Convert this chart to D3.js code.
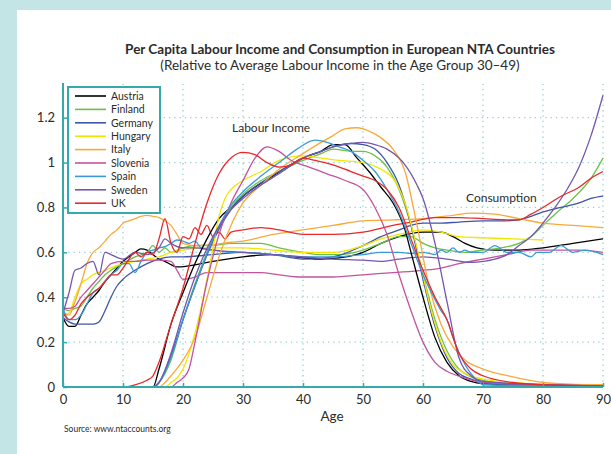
<!DOCTYPE html>
<html><head><meta charset="utf-8">
<script src="https://cdn.jsdelivr.net/npm/d3@7"></script>
<style>
html,body{margin:0;padding:0;background:#fff;}
svg{display:block;font-family:Lato,"Open Sans",sans-serif;}
</style></head>
<body><svg id="chart" width="611" height="454"></svg>
<script>
// ---------- DATA ----------
const countries = ["Austria","Finland","Germany","Hungary","Italy","Slovenia","Spain","Sweden","UK"];
const colors = ["#000000","#6cc04a","#3f55a6","#f2e600","#f9a93a","#c2549e","#3a9ad9","#7457b0","#e8282b"];
const xTicks = [0,10,20,30,40,50,60,70,80,90];
const yTicks = [0,0.2,0.4,0.6,0.8,1,1.2];

// Labour income: [age, value]
const liAustria = [[0,0],[15,0],[16,0.08],[18,0.28],[20,0.42],[22,0.55],[24,0.66],[26,0.75],[28,0.8],[30,0.85],[32,0.89],[35,0.94],[38,0.99],[40,1.02],[43,1.05],[45,1.08],[47,1.08],[49,1.02],[51,0.96],[53,0.89],[55,0.82],[57,0.7],[58,0.6],[60,0.4],[62,0.22],[64,0.11],[66,0.05],[68,0.025],[70,0.015],[75,0.01],[90,0.005]];
const liFinland = [[0,0],[15,0],[16,0.02],[18,0.12],[20,0.3],[22,0.46],[25,0.66],[28,0.8],[30,0.86],[33,0.92],[36,0.96],[40,1.01],[43,1.04],[45,1.06],[48,1.05],[50,1.05],[52,1.03],[54,0.98],[56,0.88],[58,0.72],[60,0.5],[62,0.3],[64,0.16],[66,0.08],[68,0.045],[70,0.03],[75,0.015],[80,0.012],[90,0.01]];
const liGermany = [[0,0],[15,0],[16,0.02],[18,0.14],[20,0.3],[22,0.45],[25,0.65],[28,0.79],[30,0.85],[33,0.91],[36,0.96],[40,1.02],[43,1.05],[45,1.07],[48,1.085],[50,1.08],[52,1.06],[54,1.0],[56,0.9],[58,0.72],[60,0.48],[62,0.27],[64,0.13],[66,0.06],[68,0.035],[70,0.02],[75,0.01],[90,0.005]];
const liHungary = [[0,0],[17,0],[18,0.02],[19,0.04],[20,0.08],[22,0.24],[24,0.48],[25,0.62],[26,0.76],[27,0.84],[28,0.88],[30,0.92],[33,0.96],[36,1.01],[40,1.03],[43,1.02],[46,1.01],[50,1.0],[53,0.97],[55,0.93],[57,0.82],[59,0.62],[61,0.38],[63,0.2],[65,0.1],[67,0.06],[70,0.035],[75,0.02],[80,0.01],[90,0.005]];
const liItaly = [[0,0],[16,0],[17,0.02],[18,0.05],[20,0.12],[22,0.22],[24,0.4],[26,0.58],[28,0.72],[30,0.82],[33,0.9],[36,0.97],[40,1.04],[43,1.09],[45,1.12],[47,1.15],[49,1.155],[51,1.14],[53,1.11],[55,1.06],[57,0.96],[59,0.72],[61,0.45],[63,0.28],[65,0.18],[67,0.12],[70,0.08],[75,0.045],[80,0.02],[85,0.012],[90,0.01]];
const liSlovenia = [[0,0],[18,0],[19,0.02],[20,0.04],[21,0.08],[22,0.2],[24,0.47],[26,0.68],[28,0.82],[30,0.92],[32,1.02],[34,1.07],[36,1.05],[38,1.01],[41,0.98],[44,0.95],[47,0.92],[50,0.88],[52,0.8],[54,0.68],[56,0.5],[58,0.34],[60,0.2],[62,0.11],[64,0.07],[67,0.04],[70,0.02],[80,0.01],[90,0.005]];
const liSpain = [[0,0],[15,0],[16,0.02],[18,0.13],[20,0.3],[22,0.45],[25,0.66],[28,0.81],[30,0.87],[33,0.94],[36,1.0],[39,1.06],[42,1.1],[44,1.09],[46,1.07],[48,1.05],[50,1.01],[52,0.96],[54,0.88],[56,0.78],[58,0.64],[60,0.5],[62,0.39],[63,0.34],[64,0.3],[65,0.22],[67,0.1],[69,0.03],[70,0.01],[80,0.005],[90,0.005]];
const liSweden = [[0,0],[15,0],[16,0.02],[18,0.15],[20,0.33],[22,0.49],[25,0.67],[28,0.79],[30,0.84],[33,0.9],[36,0.95],[40,1.02],[43,1.05],[45,1.07],[48,1.085],[50,1.09],[52,1.08],[54,1.06],[56,1.02],[57,0.99],[59,0.9],[60,0.84],[62,0.64],[64,0.38],[66,0.13],[68,0.05],[70,0.025],[80,0.01],[90,0.005]];
const liUK = [[0,0],[10,0],[12,0.01],[14,0.03],[15,0.05],[16,0.11],[18,0.28],[20,0.44],[22,0.64],[24,0.82],[26,0.95],[28,1.02],[30,1.045],[32,1.035],[34,1.0],[36,0.98],[38,0.99],[40,1.02],[42,1.01],[45,0.99],[48,0.96],[50,0.94],[52,0.92],[54,0.88],[56,0.8],[58,0.66],[60,0.52],[62,0.4],[64,0.3],[66,0.15],[68,0.08],[70,0.05],[75,0.02],[80,0.01],[90,0.005]];

// Consumption: [age, value]
const cAustria = [[0,0.31],[1,0.27],[2,0.27],[3,0.32],[4,0.37],[5,0.4],[6,0.43],[7,0.47],[8,0.5],[9,0.53],[10,0.56],[11,0.58],[12,0.6],[13,0.615],[14,0.61],[15,0.59],[16,0.57],[17,0.56],[18,0.545],[19,0.535],[21,0.54],[25,0.56],[30,0.58],[35,0.59],[40,0.575],[43,0.57],[46,0.575],[50,0.6],[53,0.64],[56,0.67],[60,0.69],[63,0.69],[65,0.67],[67,0.64],[69,0.62],[72,0.61],[76,0.61],[80,0.62],[85,0.64],[90,0.66]];
const cFinland = [[0,0.35],[1,0.34],[2,0.35],[3,0.36],[4,0.4],[5,0.44],[6,0.47],[7,0.5],[8,0.52],[10,0.55],[12,0.58],[14,0.6],[15,0.63],[16,0.6],[17,0.62],[18,0.6],[20,0.62],[22,0.63],[25,0.63],[28,0.64],[30,0.64],[33,0.64],[36,0.62],[40,0.6],[43,0.59],[46,0.59],[50,0.61],[53,0.64],[56,0.67],[58,0.67],[60,0.64],[62,0.62],[64,0.61],[67,0.6],[70,0.61],[73,0.62],[76,0.64],[78,0.67],[80,0.72],[82,0.77],[85,0.84],[88,0.93],[90,1.02]];
const cGermany = [[0,0.31],[1,0.29],[2,0.28],[3,0.28],[4,0.28],[5,0.28],[6,0.29],[7,0.34],[8,0.4],[9,0.45],[10,0.48],[12,0.52],[14,0.55],[16,0.57],[18,0.58],[20,0.58],[25,0.59],[30,0.6],[35,0.59],[40,0.57],[45,0.58],[50,0.63],[53,0.67],[56,0.7],[58,0.72],[60,0.73],[63,0.73],[66,0.735],[70,0.74],[73,0.74],[76,0.745],[78,0.76],[80,0.78],[83,0.8],[86,0.82],[88,0.84],[90,0.85]];
const cHungary = [[0,0.32],[1,0.33],[2,0.4],[3,0.46],[4,0.48],[5,0.5],[7,0.52],[10,0.55],[12,0.56],[14,0.57],[16,0.58],[18,0.6],[20,0.61],[23,0.62],[26,0.62],[30,0.62],[35,0.61],[40,0.6],[45,0.6],[50,0.63],[53,0.66],[56,0.68],[60,0.7],[63,0.69],[66,0.67],[70,0.665],[75,0.66],[80,0.655]];
const cItaly = [[0,0.33],[1,0.32],[2,0.38],[3,0.46],[4,0.55],[5,0.6],[6,0.62],[7,0.65],[8,0.68],[9,0.7],[10,0.73],[11,0.74],[12,0.75],[13,0.76],[14,0.765],[15,0.76],[16,0.755],[17,0.74],[18,0.72],[19,0.68],[20,0.64],[22,0.63],[25,0.635],[28,0.645],[30,0.65],[35,0.68],[40,0.7],[45,0.72],[50,0.74],[55,0.745],[60,0.75],[65,0.765],[68,0.775],[72,0.77],[76,0.75],[80,0.73],[85,0.72],[90,0.71]];
const cSlovenia = [[0,0.35],[1,0.35],[2,0.36],[3,0.4],[4,0.43],[5,0.46],[6,0.49],[7,0.52],[8,0.55],[10,0.56],[12,0.56],[14,0.565],[16,0.565],[18,0.56],[19,0.52],[20,0.48],[22,0.49],[24,0.51],[28,0.51],[33,0.51],[36,0.5],[40,0.49],[45,0.49],[50,0.5],[55,0.51],[60,0.52],[63,0.53],[66,0.55],[70,0.57],[74,0.59],[78,0.61],[82,0.61],[86,0.61],[90,0.6]];
const cSpain = [[0,0.35],[1,0.3],[2,0.3],[3,0.32],[4,0.37],[5,0.42],[6,0.44],[7,0.47],[8,0.5],[9,0.52],[10,0.55],[11,0.55],[12,0.51],[13,0.56],[14,0.6],[15,0.61],[16,0.62],[17,0.625],[18,0.64],[19,0.655],[20,0.65],[21,0.64],[22,0.65],[23,0.62],[25,0.61],[28,0.6],[30,0.6],[35,0.59],[40,0.58],[45,0.58],[50,0.59],[53,0.6],[56,0.6],[58,0.595],[60,0.6],[62,0.59],[63,0.61],[64,0.6],[65,0.62],[66,0.6],[67,0.61],[68,0.6],[70,0.6],[72,0.63],[74,0.6],[76,0.6],[78,0.58],[79,0.6],[81,0.6],[83,0.63],[85,0.6],[87,0.61],[90,0.59]];
const cSweden = [[0,0.33],[1,0.42],[2,0.52],[3,0.53],[4,0.55],[5,0.56],[6,0.5],[7,0.6],[8,0.59],[10,0.57],[12,0.6],[14,0.59],[16,0.62],[17,0.66],[18,0.64],[20,0.62],[22,0.62],[25,0.61],[30,0.6],[35,0.59],[40,0.58],[45,0.57],[50,0.565],[53,0.56],[56,0.57],[60,0.58],[64,0.57],[68,0.555],[70,0.56],[72,0.57],[74,0.59],[76,0.63],[78,0.67],[80,0.73],[82,0.8],[84,0.88],[86,0.98],[88,1.12],[90,1.3]];
const cUK = [[0,0.33],[1,0.3],[2,0.32],[3,0.37],[4,0.4],[5,0.42],[6,0.44],[7,0.47],[8,0.5],[9,0.5],[10,0.53],[11,0.57],[12,0.6],[13,0.58],[14,0.6],[15,0.59],[16,0.66],[17,0.75],[18,0.64],[19,0.6],[20,0.67],[21,0.66],[22,0.71],[23,0.68],[24,0.72],[25,0.67],[26,0.69],[27,0.66],[28,0.69],[30,0.7],[33,0.71],[36,0.7],[40,0.68],[45,0.68],[50,0.69],[55,0.72],[58,0.735],[62,0.755],[66,0.755],[70,0.75],[74,0.745],[76,0.745],[78,0.77],[80,0.8],[83,0.85],[86,0.89],[88,0.93],[90,0.96]];

const labourSeries = [liAustria,liFinland,liGermany,liHungary,liItaly,liSlovenia,liSpain,liSweden,liUK];
const consSeries = [cAustria,cFinland,cGermany,cHungary,cItaly,cSlovenia,cSpain,cSweden,cUK];

// ---------- DRAW ----------
const svg = d3.select("#chart");
const W = 611, H = 454;
const teal = "#36a9aa", grid = "#8ed2d6", band = "#c3e5e6", txt = "#2b2b2b";

svg.append("rect").attr("x",0).attr("y",0).attr("width",W).attr("height",10).attr("fill",band);
svg.append("rect").attr("x",0).attr("y",0).attr("width",17).attr("height",H).attr("fill",band);

const m = {left:63, right:603, top:84, bottom:387};
const x = d3.scaleLinear().domain([0,90]).range([m.left,m.right]);
const y = d3.scaleLinear().domain([0,1.35]).range([m.bottom,m.top]);

// grid
const g = svg.append("g");
g.selectAll(".vg").data(xTicks.filter(d=>d>0)).join("line")
  .attr("x1",d=>x(d)).attr("x2",d=>x(d)).attr("y1",m.bottom).attr("y2",m.top)
  .attr("stroke",grid).attr("stroke-width",1.3).attr("stroke-dasharray","1.3,4");
g.selectAll(".hg").data(yTicks.filter(d=>d>0)).join("line")
  .attr("x1",m.left).attr("x2",m.right).attr("y1",d=>y(d)).attr("y2",d=>y(d))
  .attr("stroke",grid).attr("stroke-width",1.3).attr("stroke-dasharray","1.3,4");

// lines
const line = d3.line().x(d=>x(d[0])).y(d=>y(d[1])).curve(d3.curveMonotoneX);
const lines = svg.append("g").attr("fill","none").attr("stroke-width",1.3).attr("stroke-linejoin","round");
consSeries.forEach((s,i)=>lines.append("path").attr("d",line(s)).attr("stroke",colors[i]));
labourSeries.forEach((s,i)=>lines.append("path").attr("d",line(s)).attr("stroke",colors[i]));

// axes
const xAxis = d3.axisBottom(x).tickValues(xTicks).tickSize(-4).tickPadding(8).tickFormat(d3.format("d"));
const yAxis = d3.axisLeft(y).tickValues(yTicks).tickSize(-4).tickPadding(8).tickFormat(d=>d===0?"0":(d===1?"1":d3.format(".1f")(d)));
const gx = svg.append("g").attr("transform",`translate(0,${m.bottom})`).call(xAxis);
const gy = svg.append("g").attr("transform",`translate(${m.left},0)`).call(yAxis);
[gx,gy].forEach(a=>{
  a.select(".domain").attr("stroke",teal).attr("stroke-width",2);
  a.selectAll(".tick line").attr("stroke",teal).attr("stroke-width",1.5);
  a.selectAll("text").attr("fill",txt).attr("font-size",13).attr("font-family","Lato,sans-serif");
});
gy.select(".domain").attr("d",`M0,${m.bottom}V${m.top-1}`);
gx.select(".domain").attr("d",`M${m.left},0H${m.right}`);

// titles
svg.append("text").attr("x",340).attr("y",54).attr("text-anchor","middle").attr("font-weight","bold")
  .attr("font-size",13.5).attr("fill",txt).text("Per Capita Labour Income and Consumption in European NTA Countries");
svg.append("text").attr("x",340).attr("y",70).attr("text-anchor","middle")
  .attr("font-size",13.5).attr("fill",txt).text("(Relative to Average Labour Income in the Age Group 30\u201349)");
svg.append("text").attr("x",332).attr("y",421).attr("text-anchor","middle")
  .attr("font-size",13.5).attr("fill",txt).text("Age");
svg.append("text").attr("x",64).attr("y",432)
  .attr("font-size",8.5).attr("fill",txt).text("Source: www.ntaccounts.org");
svg.append("text").attr("x",232).attr("y",132)
  .attr("font-size",12).attr("fill",txt).text("Labour Income");
svg.append("text").attr("x",466).attr("y",202)
  .attr("font-size",12).attr("fill",txt).text("Consumption");

// legend
const lg = svg.append("g");
lg.append("rect").attr("x",68).attr("y",87).attr("width",92).attr("height",126)
  .attr("fill","#fff").attr("stroke",teal).attr("stroke-width",2);
countries.forEach((c,i)=>{
  const yy = 96 + i*13.4;
  lg.append("line").attr("x1",75).attr("x2",106).attr("y1",yy).attr("y2",yy)
    .attr("stroke",colors[i]).attr("stroke-width",1.6);
  lg.append("text").attr("x",111).attr("y",yy+3.8).attr("font-size",10.5).attr("fill",txt).text(c);
});
</script></body></html>
